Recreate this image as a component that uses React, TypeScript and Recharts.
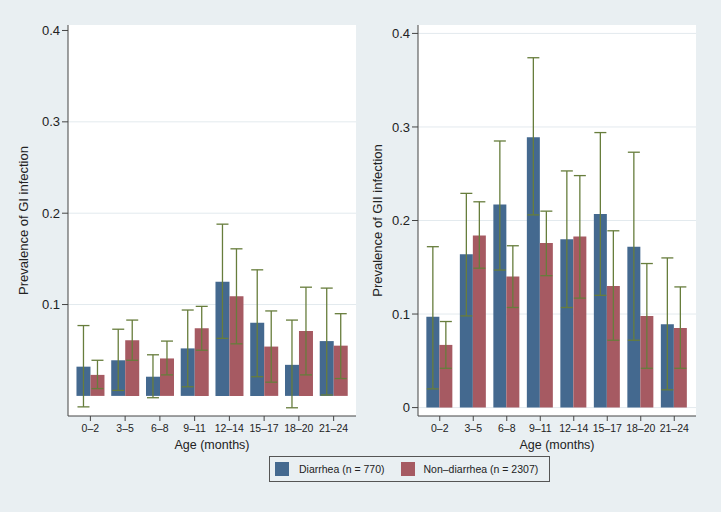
import React from 'react';
import { BarChart, Bar, XAxis, YAxis, CartesianGrid, ErrorBar } from 'recharts';

const categories = ['0–2', '3–5', '6–8', '9–11', '12–14', '15–17', '18–20', '21–24'];

// GI infection
const giDiarrhea = [0.032, 0.039, 0.021, 0.052, 0.125, 0.080, 0.034, 0.060];
const giDiarrheaLo = [-0.012, 0.006, -0.002, 0.010, 0.063, 0.021, -0.013, 0.001];
const giDiarrheaHi = [0.077, 0.073, 0.045, 0.094, 0.188, 0.138, 0.083, 0.118];
const giNon = [0.023, 0.061, 0.041, 0.074, 0.109, 0.054, 0.071, 0.055];
const giNonLo = [0.008, 0.039, 0.023, 0.050, 0.057, 0.015, 0.023, 0.019];
const giNonHi = [0.039, 0.083, 0.060, 0.098, 0.161, 0.093, 0.119, 0.090];

// GII infection
const giiDiarrhea = [0.097, 0.164, 0.217, 0.289, 0.180, 0.207, 0.172, 0.089];
const giiDiarrheaLo = [0.020, 0.098, 0.147, 0.206, 0.107, 0.120, 0.072, 0.019];
const giiDiarrheaHi = [0.172, 0.229, 0.285, 0.374, 0.253, 0.294, 0.273, 0.160];
const giiNon = [0.067, 0.184, 0.140, 0.176, 0.183, 0.130, 0.098, 0.085];
const giiNonLo = [0.042, 0.149, 0.107, 0.141, 0.117, 0.072, 0.042, 0.042];
const giiNonHi = [0.092, 0.220, 0.173, 0.210, 0.248, 0.189, 0.154, 0.129];

const giTicks = [0.1, 0.2, 0.3, 0.4];
const giiTicks = [0, 0.1, 0.2, 0.3, 0.4];

const seriesNames = ['Diarrhea (n = 770)', 'Non–diarrhea (n = 2307)'];

const BLUE = '#44698F';
const RED = '#A65A62';
const OLIVE = '#677D3C';
const BG = '#E9EFF2';
const AXIS = '#444';
const FONT = '"Liberation Sans", Arial, Helvetica, sans-serif';

function build(d: number[], dLo: number[], dHi: number[], n: number[], nLo: number[], nHi: number[]) {
  return categories.map((c, i) => ({
    cat: c,
    d: d[i],
    dErr: [d[i] - dLo[i], dHi[i] - d[i]],
    n: n[i],
    nErr: [n[i] - nLo[i], nHi[i] - n[i]],
  }));
}

const giData = build(giDiarrhea, giDiarrheaLo, giDiarrheaHi, giNon, giNonLo, giNonHi);
const giiData = build(giiDiarrhea, giiDiarrheaLo, giiDiarrheaHi, giiNon, giiNonLo, giiNonHi);

type PanelProps = {
  data: any[];
  width: number;
  yAxisWidth: number;
  marginRight: number;
  domain: [number, number];
  ticks: number[];
  gridValues: number[];
  yLabel: string;
  yLabelOffset: number;
};

function Panel(p: PanelProps) {
  return (
    <BarChart
      width={p.width}
      height={460}
      data={p.data}
      margin={{ top: 25, right: p.marginRight, left: 0, bottom: 6 }}
      barCategoryGap="10%"
      barGap={0}
    >
      <CartesianGrid
        vertical={false}
        horizontalValues={p.gridValues}
        stroke="#E3EAEE"
        fill="#FFFFFF"
        fillOpacity={1}
      />
      <XAxis
        dataKey="cat"
        interval={0}
        height={38}
        padding={{ left: 5, right: 5 }}
        tickSize={5}
        tickMargin={4}
        axisLine={{ stroke: AXIS }}
        tickLine={{ stroke: AXIS }}
        tick={{ fontSize: 10.5, fill: '#222', fontFamily: FONT }}
        label={{ value: 'Age (months)', position: 'insideBottom', offset: 5, fontSize: 12.5, fill: '#222', fontFamily: FONT }}
      />
      <YAxis
        type="number"
        width={p.yAxisWidth}
        domain={p.domain}
        ticks={p.ticks}
        allowDataOverflow
        tickSize={6}
        tickMargin={2}
        axisLine={{ stroke: AXIS }}
        tickLine={{ stroke: AXIS }}
        tick={{ fontSize: 13, fill: '#222', fontFamily: FONT }}
        label={{
          value: p.yLabel,
          angle: -90,
          position: 'insideLeft',
          offset: p.yLabelOffset,
          style: { textAnchor: 'middle', fontSize: 13, fill: '#222', fontFamily: FONT },
        }}
      />
      <Bar dataKey="d" name={seriesNames[0]} fill={BLUE} isAnimationActive={false}>
        <ErrorBar dataKey="dErr" width={6} stroke={OLIVE} strokeWidth={1.3} direction="y" />
      </Bar>
      <Bar dataKey="n" name={seriesNames[1]} fill={RED} isAnimationActive={false}>
        <ErrorBar dataKey="nErr" width={6} stroke={OLIVE} strokeWidth={1.3} direction="y" />
      </Bar>
    </BarChart>
  );
}

export default function App() {
  return (
    <div style={{ position: 'absolute', left: 0, top: 0, width: 721, height: 512, background: BG, fontFamily: FONT, overflow: 'hidden' }}>
      <div style={{ position: 'absolute', left: 0, top: 0 }}>
        <Panel
          data={giData}
          width={360}
          yAxisWidth={68}
          marginRight={4}
          domain={[-0.022, 0.406]}
          ticks={giTicks}
          gridValues={[0.1, 0.2, 0.3]}
          yLabel="Prevalence of GI infection"
          yLabelOffset={23}
        />
      </div>
      <div style={{ position: 'absolute', left: 360, top: 0 }}>
        <Panel
          data={giiData}
          width={361}
          yAxisWidth={58}
          marginRight={25}
          domain={[-0.009, 0.409]}
          ticks={giiTicks}
          gridValues={[0, 0.1, 0.2, 0.3, 0.4]}
          yLabel="Prevalence of GII infection"
          yLabelOffset={17}
        />
      </div>
      <div
        style={{
          position: 'absolute',
          left: 269,
          top: 456,
          width: 279,
          height: 24,
          border: '1px solid #555',
          background: BG,
          fontSize: 10.5,
          color: '#222',
          display: 'flex',
          alignItems: 'center',
          whiteSpace: 'nowrap',
        }}
      >
        <div style={{ width: 14, height: 14, background: BLUE, marginLeft: 5, flexShrink: 0 }} />
        <span style={{ marginLeft: 10 }}>{seriesNames[0]}</span>
        <div style={{ width: 14, height: 14, background: RED, marginLeft: 16, flexShrink: 0 }} />
        <span style={{ marginLeft: 9 }}>{seriesNames[1]}</span>
      </div>
    </div>
  );
}
